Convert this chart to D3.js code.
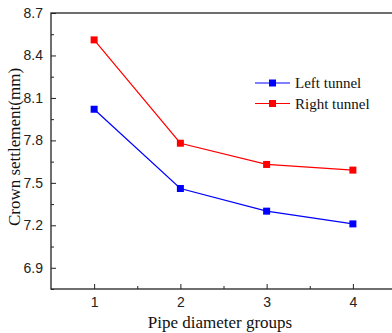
<!DOCTYPE html>
<html>
<head>
<meta charset="utf-8">
<script src="https://cdn.jsdelivr.net/npm/d3@7"></script>
<style>
  body { margin: 0; background: #fff; }
  svg { display: block; }
</style>
</head>
<body>
<svg id="chart" width="392" height="333"></svg>
<script>
const groups = [1, 2, 3, 4];
const leftTunnel = [8.02, 7.46, 7.30, 7.21];
const rightTunnel = [8.51, 7.78, 7.63, 7.59];
const yTicks = [6.9, 7.2, 7.5, 7.8, 8.1, 8.4, 8.7];
const yMinorTicks = [6.75, 7.05, 7.35, 7.65, 7.95, 8.25, 8.55];
const xMinorTicks = [1.5, 2.5, 3.5];

const width = 392, height = 333;
const margin = { top: 13, right: -4, bottom: 44, left: 51 };

const svg = d3.select('#chart');

const x = d3.scaleLinear()
  .domain([0.5, 4.5])
  .range([margin.left, width - margin.right]);

const y = d3.scaleLinear()
  .domain([6.75, 8.7])
  .range([height - margin.bottom, margin.top]);

const axisColor = '#222';
const tickFont = '"Liberation Sans", Arial, sans-serif';
const titleFont = '"Liberation Serif", "Times New Roman", serif';

// frame
svg.append('rect')
  .attr('x', x(0.5))
  .attr('y', y(8.7))
  .attr('width', x(4.5) - x(0.5))
  .attr('height', y(6.75) - y(8.7))
  .attr('fill', 'none')
  .attr('stroke', axisColor)
  .attr('stroke-width', 1.3);

// x axis, ticks inward
svg.append('g')
  .attr('transform', `translate(0,${y(6.75)})`)
  .call(d3.axisBottom(x).tickValues(groups).tickFormat(d3.format('d')).tickSize(-5).tickPadding(8));
svg.append('g')
  .attr('transform', `translate(0,${y(6.75)})`)
  .call(d3.axisBottom(x).tickValues(xMinorTicks).tickFormat('').tickSize(-3));

// y axis, ticks inward
svg.append('g')
  .attr('transform', `translate(${x(0.5)},0)`)
  .call(d3.axisLeft(y).tickValues(yTicks).tickFormat(d3.format('.1f')).tickSize(-5).tickPadding(8));
svg.append('g')
  .attr('transform', `translate(${x(0.5)},0)`)
  .call(d3.axisLeft(y).tickValues(yMinorTicks).tickFormat('').tickSize(-3));

svg.selectAll('.domain').remove();
svg.selectAll('.tick line').attr('stroke', axisColor).attr('stroke-width', 1);
svg.selectAll('.tick text')
  .attr('font-family', tickFont)
  .attr('font-size', 14)
  .attr('fill', '#222');

// axis titles
svg.append('text')
  .attr('x', 220)
  .attr('y', 328)
  .attr('text-anchor', 'middle')
  .attr('font-family', titleFont)
  .attr('font-size', 17)
  .attr('fill', '#111')
  .text('Pipe diameter groups');

svg.append('text')
  .attr('transform', 'translate(20,147) rotate(-90)')
  .attr('text-anchor', 'middle')
  .attr('font-family', titleFont)
  .attr('font-size', 17)
  .attr('fill', '#111')
  .text('Crown settlement(mm)');

// series
const series = [
  { name: 'Left tunnel', values: leftTunnel, color: '#0000ff' },
  { name: 'Right tunnel', values: rightTunnel, color: '#ff0000' },
];

const lineGen = d3.line()
  .x((d, i) => x(groups[i]))
  .y(d => y(d));

series.forEach(s => {
  svg.append('path')
    .datum(s.values)
    .attr('d', lineGen)
    .attr('fill', 'none')
    .attr('stroke', s.color)
    .attr('stroke-width', 1.2);
  svg.selectAll(null)
    .data(s.values)
    .join('rect')
    .attr('x', (d, i) => x(groups[i]) - 3.5)
    .attr('y', d => y(d) - 3.5)
    .attr('width', 7)
    .attr('height', 7)
    .attr('fill', s.color);
});

// legend
const legend = svg.append('g').attr('transform', 'translate(255,83)');
series.forEach((s, i) => {
  const g = legend.append('g').attr('transform', `translate(0,${i * 20.5})`);
  g.append('line')
    .attr('x1', 0).attr('x2', 35)
    .attr('stroke', s.color).attr('stroke-width', 1.2);
  g.append('rect')
    .attr('x', 14).attr('y', -3.5)
    .attr('width', 7).attr('height', 7)
    .attr('fill', s.color);
  g.append('text')
    .attr('x', 40).attr('y', 5)
    .attr('font-family', titleFont)
    .attr('font-size', 15)
    .attr('fill', '#111')
    .text(s.name);
});
</script>
</body>
</html>
